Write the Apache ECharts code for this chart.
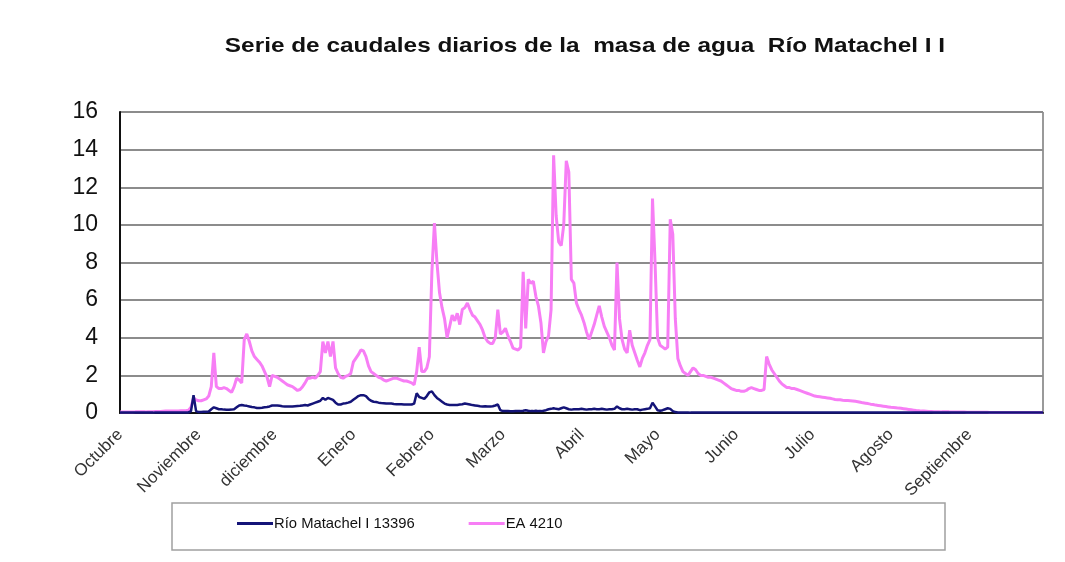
<!DOCTYPE html>
<html>
<head>
<meta charset="utf-8">
<script src="https://cdn.jsdelivr.net/npm/echarts@6/dist/echarts.min.js"></script>
<style>html,body{margin:0;padding:0;background:#fff;}#c{width:1065px;height:562px;}</style>
</head>
<body>
<div id="c"></div>
<script>
var titleText = 'Serie de caudales diarios de la  masa de agua  Río Matachel I I';
var monthNames = ['Octubre','Noviembre','diciembre','Enero','Febrero','Marzo','Abril','Mayo','Junio','Julio','Agosto','Septiembre'];
var monthDays = [31,30,31,31,28,31,30,31,30,31,31,30];
var yTicks = [0,2,4,6,8,10,12,14,16];
var seriesNames = ['Río Matachel I 13396','EA 4210'];

var matachel = [
0.02,0.02,0.02,0.02,0.02,0.02,0.02,0.02,0.02,0.02,
0.02,0.02,0.02,0.02,0.03,0.03,0.03,0.03,0.03,0.03,
0.03,0.03,0.03,0.03,0.03,0.03,0.03,0.03,0.1,0.95,
0.1,0.05,0.05,0.06,0.07,0.08,0.2,0.3,0.25,0.2,
0.2,0.18,0.17,0.17,0.18,0.2,0.3,0.4,0.43,0.4,
0.38,0.35,0.32,0.3,0.27,0.27,0.28,0.3,0.32,0.35,
0.4,0.4,0.4,0.38,0.36,0.35,0.34,0.34,0.35,0.36,
0.37,0.38,0.4,0.42,0.4,0.45,0.5,0.55,0.6,0.65,
0.8,0.7,0.8,0.75,0.7,0.55,0.45,0.45,0.5,0.52,
0.55,0.6,0.7,0.8,0.9,0.95,0.95,0.9,0.75,0.65,
0.6,0.58,0.55,0.53,0.52,0.5,0.5,0.5,0.48,0.47,
0.46,0.46,0.45,0.45,0.45,0.45,0.5,1.05,0.85,0.8,
0.75,0.9,1.1,1.15,0.95,0.8,0.7,0.6,0.5,0.45,
0.43,0.42,0.42,0.43,0.45,0.47,0.5,0.48,0.45,0.42,
0.4,0.38,0.36,0.35,0.36,0.35,0.34,0.36,0.4,0.45,
0.15,0.1,0.1,0.1,0.09,0.09,0.1,0.1,0.1,0.12,
0.15,0.12,0.1,0.1,0.12,0.1,0.1,0.12,0.15,0.2,
0.22,0.25,0.22,0.2,0.25,0.3,0.25,0.2,0.18,0.2,
0.2,0.2,0.22,0.2,0.18,0.2,0.2,0.22,0.2,0.2,
0.22,0.2,0.18,0.2,0.2,0.22,0.35,0.25,0.2,0.2,
0.22,0.2,0.18,0.2,0.2,0.15,0.18,0.2,0.22,0.25,
0.55,0.35,0.15,0.12,0.15,0.2,0.25,0.22,0.1,0.05,
0.03,0.03,0.03,0.03,0.03,0.02,0.02,0.02,0.02,0.02,
0.02,0.02,0.02,0.02,0.02,0.02,0.02,0.02,0.02,0.02,
0.02,0.02,0.02,0.02,0.02,0.02,0.02,0.02,0.02,0.02,
0.02,0.02,0.02,0.02,0.02,0.02,0.02,0.02,0.02,0.02,
0.02,0.02,0.02,0.02,0.02,0.02,0.02,0.02,0.02,0.02,
0.02,0.02,0.02,0.02,0.02,0.02,0.02,0.02,0.02,0.02,
0.02,0.02,0.02,0.02,0.02,0.02,0.02,0.02,0.02,0.02,
0.02,0.02,0.02,0.02,0.02,0.02,0.02,0.02,0.02,0.02,
0.02,0.02,0.02,0.02,0.02,0.02,0.02,0.02,0.02,0.02,
0.02,0.02,0.02,0.02,0.02,0.02,0.02,0.02,0.02,0.02,
0.02,0.02,0.02,0.02,0.02,0.02,0.02,0.02,0.02,0.02,
0.02,0.02,0.02,0.02,0.02,0.02,0.02,0.02,0.02,0.02,
0.02,0.02,0.02,0.02,0.02,0.02,0.02,0.02,0.02,0.02,
0.02,0.02,0.02,0.02,0.02,0.02,0.02,0.02,0.02,0.02,
0.02,0.02,0.02,0.02,0.02
];

var ea4210 = [
0.05,0.05,0.05,0.05,0.05,0.05,0.06,0.06,0.06,0.06,
0.06,0.07,0.07,0.07,0.08,0.08,0.08,0.09,0.1,0.1,
0.1,0.1,0.1,0.11,0.12,0.12,0.12,0.15,0.3,0.8,
0.7,0.65,0.65,0.7,0.75,0.9,1.4,3.2,1.4,1.3,
1.3,1.35,1.3,1.2,1.1,1.4,1.85,1.75,1.6,3.9,
4.2,3.8,3.3,3.0,2.85,2.7,2.5,2.2,1.9,1.4,
2.0,1.95,1.9,1.8,1.7,1.6,1.5,1.45,1.4,1.3,
1.2,1.25,1.4,1.6,1.85,1.85,1.9,1.85,2.0,2.2,
3.8,3.2,3.8,3.0,3.8,2.4,2.1,1.9,1.85,1.95,
2.0,2.1,2.7,2.9,3.1,3.35,3.3,3.0,2.5,2.2,
2.1,2.0,1.9,1.85,1.75,1.7,1.75,1.8,1.85,1.85,
1.8,1.75,1.7,1.7,1.65,1.6,1.5,2.2,3.5,2.2,
2.2,2.4,3.0,7.5,10.1,8.0,6.4,5.6,5.0,4.0,
4.6,5.2,4.9,5.3,4.7,5.5,5.6,5.85,5.5,5.2,
5.1,4.9,4.7,4.4,4.0,3.8,3.7,3.7,4.0,5.5,
4.2,4.3,4.5,4.1,3.8,3.45,3.4,3.35,3.5,7.5,
4.5,7.1,6.9,7.0,6.2,5.7,4.8,3.2,3.8,4.1,
5.5,13.7,10.5,9.1,8.9,10.0,13.4,12.8,7.1,6.9,
5.85,5.5,5.2,4.8,4.3,3.9,4.3,4.7,5.2,5.7,
5.1,4.6,4.3,4.0,3.6,3.35,8.0,5.0,3.9,3.4,
3.2,4.4,3.6,3.2,2.8,2.45,2.9,3.2,3.6,3.9,
11.4,8.0,4.0,3.6,3.5,3.4,3.5,10.3,9.5,5.0,
2.9,2.5,2.2,2.1,2.0,2.2,2.4,2.3,2.1,2.0,
2.0,1.95,1.9,1.9,1.85,1.8,1.75,1.7,1.6,1.5,
1.4,1.3,1.25,1.2,1.2,1.15,1.15,1.2,1.3,1.35,
1.3,1.25,1.2,1.2,1.25,3.0,2.6,2.3,2.1,1.9,
1.7,1.55,1.45,1.35,1.35,1.3,1.3,1.25,1.2,1.15,
1.1,1.05,1.0,0.95,0.9,0.88,0.86,0.84,0.82,0.8,
0.78,0.75,0.72,0.7,0.7,0.68,0.67,0.66,0.65,0.64,
0.62,0.6,0.57,0.54,0.52,0.5,0.47,0.45,0.42,0.4,
0.38,0.36,0.34,0.32,0.3,0.29,0.28,0.26,0.25,0.23,
0.21,0.19,0.17,0.15,0.13,0.12,0.1,0.1,0.09,0.08,
0.08,0.07,0.07,0.07,0.06,0.06,0.06,0.06,0.05,0.05,
0.05,0.05,0.05,0.05,0.04,0.04,0.04,0.04,0.04,0.04,
0.04,0.04,0.04,0.03,0.03,0.03,0.03,0.03,0.03,0.03,
0.03,0.03,0.03,0.03,0.03,0.03,0.03,0.03,0.03,0.03,
0.03,0.03,0.03,0.03,0.03
];

// build daily categories from month names/lengths
var categories = [];
var monthStart = {};
for (var m = 0; m < monthNames.length; m++) {
  monthStart[categories.length] = monthNames[m];
  for (var d = 1; d <= monthDays[m]; d++) categories.push(monthNames[m] + ' ' + d);
}

var chart = echarts.init(document.getElementById('c'));
chart.setOption({
  animation: false,
  backgroundColor: '#fff',
  grid: { left: 120, right: 22, top: 112, bottom: 149, containLabel: false },
  legend: {
    left: 232, top: 511, itemGap: 54, itemWidth: 36, itemHeight: 3, icon: 'rect',
    textStyle: { fontFamily: 'Liberation Sans', fontSize: 14.8, color: '#111', padding: [0,0,0,-4] },
    data: seriesNames
  },
  graphic: [{
    type: 'text', x: 585, y: 46, scaleX: 1.16, scaleY: 1,
    style: {
      text: titleText, font: 'bold 21px "Liberation Sans"', fill: '#111',
      align: 'center', verticalAlign: 'middle'
    }
  }, {
    type: 'rect', shape: { x: 172, y: 503, width: 773, height: 47 },
    style: { fill: 'none', stroke: '#a0a0a0', lineWidth: 1.5 }, z: -1
  }, {
    type: 'line', shape: { x1: 1043, y1: 112, x2: 1043, y2: 413 },
    style: { stroke: '#9a9a9a', lineWidth: 2 }
  }],
  xAxis: {
    type: 'category', data: categories, boundaryGap: false,
    axisLine: { lineStyle: { color: '#111', width: 2 } },
    axisTick: { show: false },
    axisLabel: {
      rotate: 45, margin: 19, fontFamily: 'Liberation Sans', fontSize: 17, color: '#333',
      interval: function (i) { return monthStart[i] !== undefined; },
      formatter: function (v, i) { return monthStart[i] || ''; }
    },
    splitLine: { show: false }
  },
  yAxis: {
    type: 'value', min: yTicks[0], max: yTicks[yTicks.length - 1], interval: 2,
    axisLine: { show: true, lineStyle: { color: '#111', width: 2 } },
    axisTick: { show: false },
    axisLabel: { fontFamily: 'Liberation Sans', fontSize: 23, color: '#111', margin: 22 },
    splitLine: { lineStyle: { color: '#8c8c8c', width: 2 } }
  },
  series: [{
    name: seriesNames[0], type: 'line', data: matachel, showSymbol: false,
    lineStyle: { color: '#141478', width: 2.5 }, itemStyle: { color: '#141478' }, z: 3
  }, {
    name: seriesNames[1], type: 'line', data: ea4210, showSymbol: false,
    lineStyle: { color: '#f77ef5', width: 3 }, itemStyle: { color: '#f77ef5' }, z: 2
  }]
});
</script>
</body>
</html>
